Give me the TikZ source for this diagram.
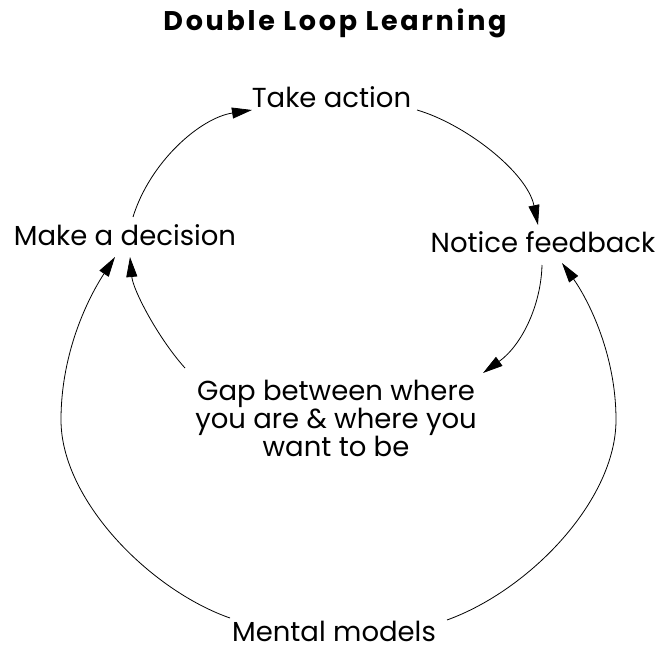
\documentclass[tikz,border=0pt]{standalone}
\usepackage{fontspec}
\setmainfont{Poppins}
\usetikzlibrary{arrows.meta,calc}
\begin{document}
\begin{tikzpicture}[x=1pt,y=-1pt,
  lbl/.style={inner sep=0pt,anchor=base,font=\fontsize{27.5}{28}\selectfont},
  ttl/.style={inner sep=0pt,anchor=base,font=\fontsize{27}{28}\selectfont\bfseries\addfontfeature{LetterSpace=10}},
  conn/.style={line width=0.8pt,-{Triangle[length=20pt,width=11pt]}}]
\useasboundingbox[fill=white] (0,0) rectangle (659,650);
\node[ttl] (title) at (335,31) {Double Loop Learning};
\node[lbl] (take) at (331.5,108) {Take action};
\node[lbl] (make) at (125,245) {Make a decision};
\node[lbl] (notice) at (543,252) {Notice feedback};
\node[lbl,anchor=center,align=center] (gap) at (336,418) {Gap between where\\you are \& where you\\want to be};
\node[lbl,text depth=0pt] (mental) at (334,641) {Mental models};
% inner loop
\draw[conn] ($(make.base)+(8,-28)$) .. controls (150,162) and (200,118) .. ($(take.base)+(-79.5,2)$);
\draw[conn] ($(take.base)+(85.5,2)$) .. controls (465,124) and (527,172) .. ($(notice.base)+(-5,-27)$);
\draw[conn] ($(notice.base)+(-1,13)$) .. controls (541,305) and (522,345) .. ($(gap.center)+(147,-45)$);
\draw[conn] ($(gap.center)+(-151,-50)$) .. controls (158,338) and (133,290) .. ($(make.base)+(5,12)$);
% outer loop
\draw[conn] ($(mental.base)+(-104,-23)$) .. controls (150,590) and (61,500) .. (61,420) .. controls (61,350) and (90,295) .. ($(make.base)+(-10,12)$);
\draw[conn] ($(mental.base)+(113,-21)$) .. controls (530,590) and (616,500) .. (616,420) .. controls (616,350) and (585,295) .. ($(notice.base)+(19,11)$);
\end{tikzpicture}
\end{document}
